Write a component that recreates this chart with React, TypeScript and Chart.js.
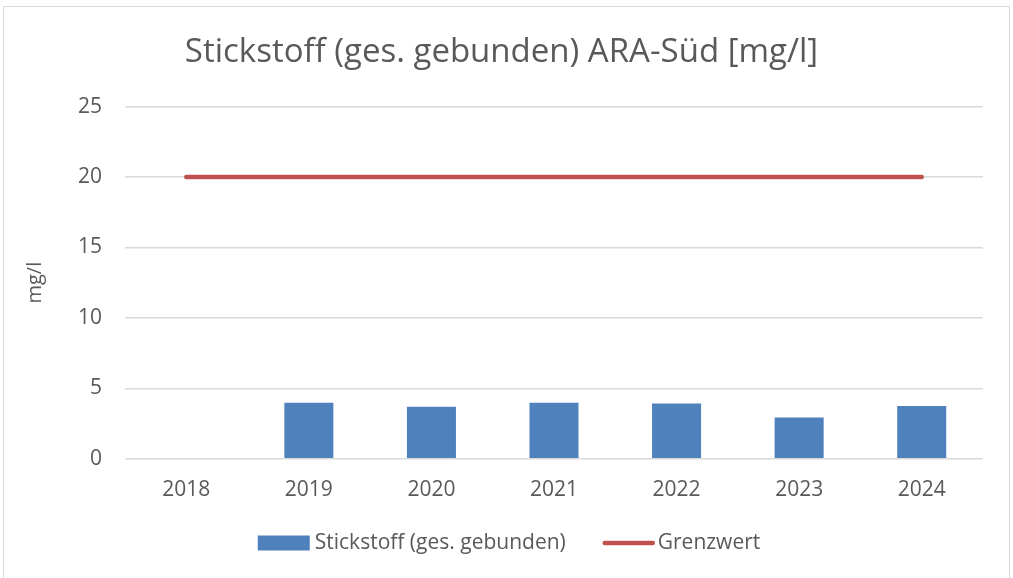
import React, { useEffect, useRef } from "react";
import { Chart, registerables } from "chart.js";

Chart.register(...registerables);

const categories = ["2018", "2019", "2020", "2021", "2022", "2023", "2024"];
const stickstoffValues: (number | null)[] = [null, 3.97, 3.7, 3.97, 3.93, 2.93, 3.74];
const grenzwertValues = [20, 20, 20, 20, 20, 20, 20];
const yTicks = [0, 5, 10, 15, 20, 25];

const FONT = "'Open Sans', sans-serif";
const TEXT = "#595959";
const GRID = "#d9d9d9";

const legendPlugin = {
  id: "customLegend",
  afterDraw(chart: any) {
    const ctx = chart.ctx;
    const ds = chart.data.datasets;
    const font = `21px ${FONT}`;
    ctx.save();
    ctx.font = font;
    const w1 = ctx.measureText(ds[0].label).width;
    const w2 = ctx.measureText(ds[1].label).width;
    const symW = 52;
    const total = symW + 5 + w1 + 37 + symW + 3 + w2;
    const cy = 543;
    let x = 509 - total / 2;
    // bar symbol
    ctx.fillStyle = ds[0].backgroundColor;
    ctx.fillRect(x, cy - 7.5, symW, 15);
    x += symW + 5;
    ctx.fillStyle = TEXT;
    ctx.textBaseline = "middle";
    ctx.textAlign = "left";
    ctx.fillText(ds[0].label, x, cy);
    x += w1 + 37;
    // line symbol
    ctx.strokeStyle = ds[1].borderColor;
    ctx.lineWidth = ds[1].borderWidth;
    ctx.lineCap = "round";
    ctx.beginPath();
    ctx.moveTo(x + 2, cy);
    ctx.lineTo(x + symW - 2, cy);
    ctx.stroke();
    x += symW + 3;
    ctx.fillStyle = TEXT;
    ctx.fillText(ds[1].label, x, cy);
    ctx.restore();
  },
};

export default function App() {
  const canvasRef = useRef<HTMLCanvasElement | null>(null);

  useEffect(() => {
    document.body.style.margin = "0";
    document.body.style.overflow = "hidden";
    const canvas = canvasRef.current;
    if (!canvas) return;
    const chart = new Chart(canvas, {
      type: "bar",
      data: {
        labels: categories,
        datasets: [
          {
            type: "bar",
            label: "Stickstoff (ges. gebunden)",
            data: stickstoffValues,
            backgroundColor: "#4F81BD",
            borderWidth: 0,
            barPercentage: 0.8,
            categoryPercentage: 0.5,
            order: 2,
          } as any,
          {
            type: "line",
            label: "Grenzwert",
            data: grenzwertValues,
            borderColor: "#C0504D",
            backgroundColor: "#C0504D",
            borderWidth: 4.5,
            borderCapStyle: "round",
            pointRadius: 0,
            pointHoverRadius: 0,
            order: 1,
          } as any,
        ],
      },
      plugins: [legendPlugin],
      options: {
        responsive: false,
        animation: false,
        layout: { padding: { left: 20, right: 30, top: 14, bottom: 64 } },
        plugins: {
          title: {
            display: true,
            text: "Stickstoff (ges. gebunden) ARA-Süd [mg/l]",
            color: TEXT,
            font: { family: FONT, size: 33, weight: "normal" },
            padding: { top: 19, bottom: 34 },
          },
          legend: { display: false },
          tooltip: { enabled: false },
        },
        scales: {
          x: {
            grid: { display: false },
            border: { display: false },
            ticks: {
              color: TEXT,
              font: { family: FONT, size: 21 },
              padding: 11,
            },
          },
          y: {
            min: 0,
            max: 25,
            afterBuildTicks: (scale: any) => {
              scale.ticks = yTicks.map((v) => ({ value: v }));
            },
            afterFit: (scale: any) => {
              scale.width = 105;
            },
            grid: { color: GRID, lineWidth: 1.5, drawTicks: false },
            border: { display: false },
            ticks: {
              color: TEXT,
              font: { family: FONT, size: 21 },
              padding: 23,
            },
            title: {
              display: true,
              text: "mg/l",
              color: TEXT,
              font: { family: FONT, size: 20 },
              padding: { top: 3, bottom: 0 },
            },
          },
        },
      },
    });
    return () => chart.destroy();
  }, []);

  return (
    <div style={{ position: "absolute", left: 0, top: 0, width: 1013, height: 578, overflow: "hidden", background: "#fff" }}>
      <div
        style={{
          position: "absolute",
          left: 3,
          top: 6,
          width: 1007,
          height: 580,
          border: "1.5px solid #d9d9d9",
          boxSizing: "border-box",
        }}
      />
      <canvas ref={canvasRef} width={1013} height={578} style={{ position: "absolute", left: 0, top: 0 }} />
    </div>
  );
}
